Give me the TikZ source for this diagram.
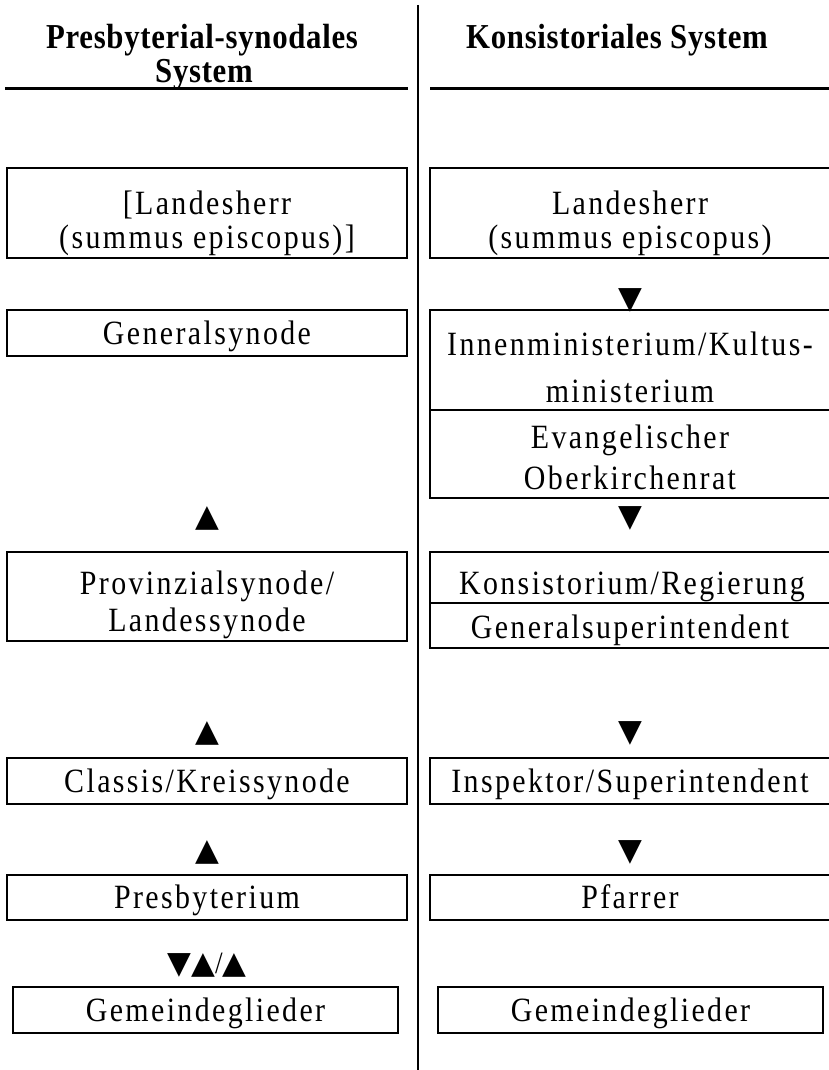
\documentclass[tikz,border=0pt]{standalone}
\usepackage{fontspec}
\setmainfont{Liberation Serif}[LetterSpace=7, FakeStretch=0.88]
\newfontfamily\titlefont{Liberation Serif}[LetterSpace=2, FakeStretch=0.88]
\newfontfamily\sym{DejaVu Sans}
\begin{document}
\begin{tikzpicture}[x=1pt,y=-1pt,
  box/.style={draw, line width=2pt, inner sep=0pt},
  line/.style={inner sep=0pt, text height=22pt, text depth=0pt,
    font=\fontsize{34}{36}\selectfont},
  title/.style={inner sep=0pt, text height=24pt, text depth=0pt,
    font=\fontsize{35}{34}\titlefont\bfseries},
  tri/.style={inner sep=0pt, font=\fontsize{31}{31}\selectfont},
  rule/.style={line width=3pt},
  divider/.style={line width=2.5pt}]
\useasboundingbox (0,0) rectangle (828,1070);
% titles
\node[title] (TL1) at (202,37) {Presbyterial-synodales};
\node[title] (TL2) at (204,71) {System};
\node[title] (TR) at (617,37) {Konsistoriales System};
\coordinate (RL1) at (5,89); \coordinate (RL2) at (408,89);
\coordinate (RR1) at (430,89); \coordinate (RR2) at (829,89);
\draw[rule] (RL1) -- (RL2);
\draw[rule] (RR1) -- (RR2);
\coordinate (D1) at (418,5); \coordinate (D2) at (418,1070);
\draw[divider] (D1) -- (D2);
% left column boxes
\node[box, minimum width=400pt, minimum height=90pt] (L1) at (207,213) {};
\node[box, minimum width=400pt, minimum height=46pt] (L2) at (207,333) {};
\node[box, minimum width=400pt, minimum height=89pt] (L3) at (207,596.5) {};
\node[box, minimum width=400pt, minimum height=46pt] (L4) at (207,781) {};
\node[box, minimum width=400pt, minimum height=45pt] (L5) at (207,897.5) {};
\node[box, minimum width=385pt, minimum height=46pt] (L6) at (205.5,1010) {};
% left column texts
\node[line] (L1a) at (207,203) {[Landesherr};
\node[line] (L1b) at (207,237) {(summus episcopus)]};
\node[line] (L2a) at (207,333) {Generalsynode};
\node[line] (L3a) at (207,583) {Provinzialsynode/};
\node[line] (L3b) at (207,620) {Landessynode};
\node[line] (L4a) at (207,781) {Classis/Kreissynode};
\node[line] (L5a) at (207,897) {Presbyterium};
\node[line] (L6a) at (205.5,1010) {Gemeindeglieder};
% left column triangles
\node[tri] (AL1) at (207,518) {\sym ▲};
\node[tri] (AL2) at (207,733) {\sym ▲};
\node[tri] (AL3) at (207,852) {\sym ▲};
\node[tri] (AL4) at (207,965) {{\sym ▼▲}/{\sym ▲}};
% right column boxes
\node[box, minimum width=400pt, minimum height=90pt] (R1) at (630,213) {};
\node[box, minimum width=400pt, minimum height=100pt] (R2a) at (630,360) {};
\node[box, minimum width=400pt, minimum height=88pt] (R2b) at (630,454) {};
\node[box, minimum width=400pt, minimum height=51pt] (R3a) at (630,577.5) {};
\node[box, minimum width=400pt, minimum height=45pt] (R3b) at (630,625.5) {};
\node[box, minimum width=400pt, minimum height=46pt] (R4) at (630,781) {};
\node[box, minimum width=400pt, minimum height=45pt] (R5) at (630,897.5) {};
\node[box, minimum width=385pt, minimum height=46pt] (R6) at (630.5,1010) {};
% right column texts
\node[line] (R1a) at (630,203) {Landesherr};
\node[line] (R1b) at (630,237) {(summus episcopus)};
\node[line] (R2a1) at (630,344) {Innenministerium/Kultus-};
\node[line] (R2a2) at (630,391) {ministerium};
\node[line] (R2b1) at (630,437) {Evangelischer};
\node[line] (R2b2) at (630,478) {Oberkirchenrat};
\node[line] (R3a1) at (632,583) {Konsistorium/Regierung};
\node[line] (R3b1) at (630,627) {Generalsuperintendent};
\node[line] (R4a) at (630,781) {Inspektor/Superintendent};
\node[line] (R5a) at (630,897) {Pfarrer};
\node[line] (R6a) at (630.5,1010) {Gemeindeglieder};
% right column triangles
\node[tri] (AR1) at (630,300) {\sym ▼};
\node[tri] (AR2) at (630,518) {\sym ▼};
\node[tri] (AR3) at (630,733) {\sym ▼};
\node[tri] (AR4) at (630,852) {\sym ▼};
\end{tikzpicture}
\end{document}
